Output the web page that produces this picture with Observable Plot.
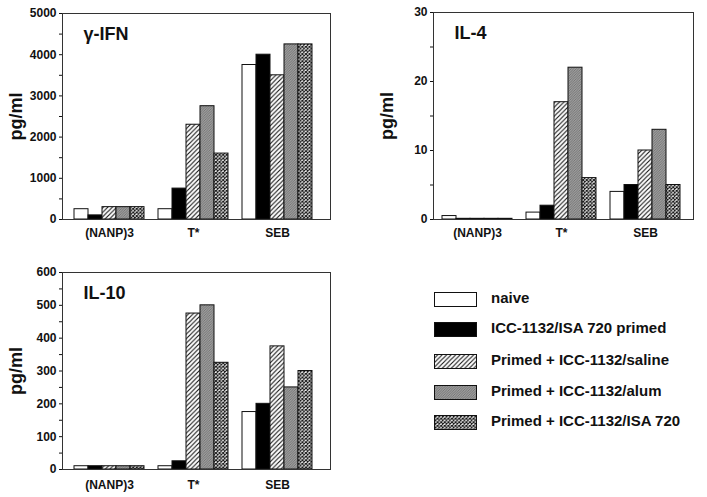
<!DOCTYPE html>
<html>
<head>
<meta charset="utf-8">
<script src="https://cdn.jsdelivr.net/npm/d3@7"></script>
<script src="https://cdn.jsdelivr.net/npm/@observablehq/plot@0.6"></script>
<style>
  html, body { margin: 0; padding: 0; background: #fff; }
  body { width: 707px; height: 497px; position: relative; overflow: hidden;
         font-family: "Liberation Sans", Arial, sans-serif; }
  .panel { position: absolute; }
  .panel svg { font-family: "Liberation Sans", Arial, sans-serif; font-weight: bold; overflow: visible; }
  #legend { position: absolute; left: 434px; top: 292px; }
  .row { position: absolute; left: 0; height: 16px; white-space: nowrap; }
  .row svg { position: absolute; left: 0; top: 0; }
  .row span { position: absolute; left: 57px; top: -3px; font-weight: bold; font-size: 15px; color: #111; }
</style>
</head>
<body>
<svg width="0" height="0" style="position:absolute">
  <defs>
    <pattern id="hatch" patternUnits="userSpaceOnUse" width="4.5" height="4.5">
      <rect width="4.5" height="4.5" fill="#fff"/>
      <path d="M-1,1 l2,-2 M0,4.5 l4.5,-4.5 M3.5,5.5 l2,-2" stroke="#111" stroke-width="1.1"/>
    </pattern>
    <pattern id="alum" patternUnits="userSpaceOnUse" width="2.5" height="2.5">
      <rect width="2.5" height="2.5" fill="#9c9c9c"/>
      <path d="M-0.5,0.5 l1,-1 M0,2.5 l2.5,-2.5 M2,3 l1,-1" stroke="#666" stroke-width="0.7"/>
    </pattern>
    <pattern id="cross" patternUnits="userSpaceOnUse" width="3.6" height="3.6">
      <rect width="3.6" height="3.6" fill="#fff"/>
      <path d="M0,0 L3.6,3.6 M3.6,0 L0,3.6" stroke="#111" stroke-width="1.1"/>
    </pattern>
  </defs>
</svg>
<div id="p1" class="panel" style="left:0;top:0"></div>
<div id="p2" class="panel" style="left:360px;top:0"></div>
<div id="p3" class="panel" style="left:0;top:255px"></div>
<div id="legend"></div>
<script>
// ---- data ----
const groups = ["(NANP)3", "T*", "SEB"];
const series = ["naive", "ICC-1132/ISA 720 primed", "Primed + ICC-1132/saline", "Primed + ICC-1132/alum", "Primed + ICC-1132/ISA 720"];
const seriesFills = ["#ffffff", "#000000", "url(#hatch)", "url(#alum)", "url(#cross)"];

const ifnValues = [
  [250, 100, 300, 300, 300],
  [250, 750, 2300, 2750, 1600],
  [3750, 4000, 3500, 4250, 4250]
];
const il4Values = [
  [0.5, 0.1, 0.1, 0.1, 0.1],
  [1, 2, 17, 22, 6],
  [4, 5, 10, 13, 5]
];
const il10Values = [
  [10, 10, 10, 10, 10],
  [10, 25, 475, 500, 325],
  [175, 200, 375, 250, 300]
];
const ifnTicks = [0, 1000, 2000, 3000, 4000, 5000];
const ifnMinor = [500, 1500, 2500, 3500, 4500];
const il4Ticks = [0, 10, 20, 30];
const il4Minor = [5, 15, 25];
const il10Ticks = [0, 100, 200, 300, 400, 500, 600];
const il10Minor = [50, 150, 250, 350, 450, 550];
const yLabel = "pg/ml";

// ---- helpers ----
const xDomain = [];
groups.forEach((g, gi) => {
  series.forEach((s, si) => xDomain.push(`${gi}-${si}`));
  if (gi < groups.length - 1) xDomain.push(`gap${gi}`);
});
const midKeys = groups.map((g, gi) => `${gi}-2`);

function rowsFor(values) {
  return groups.flatMap((g, gi) => series.map((s, si) => ({key: `${gi}-${si}`, group: g, series: s, value: values[gi][si]})));
}

function panel({values, title, ticks, minor, max, width, height, marginLeft, marginRight, marginTop, marginBottom, tickPadX}) {
  return Plot.plot({
    width, height, marginLeft, marginRight, marginTop, marginBottom,
    style: {fontSize: "12px", fontWeight: "bold", color: "#111", background: "transparent"},
    x: {domain: xDomain, paddingInner: 0, paddingOuter: 0.7, align: 0.4, axis: null},
    y: {domain: [0, max], axis: null},
    color: {domain: series, range: seriesFills},
    marks: [
      Plot.barY(rowsFor(values), {x: "key", y: "value", fill: "series", stroke: "#111", strokeWidth: 1}),
      Plot.frame({stroke: "#333", strokeWidth: 1}),
      Plot.axisY({ticks, tickSize: 3, tickPadding: 3, tickFormat: d => String(d), label: null, fontSize: 12, fontWeight: "bold"}),
      Plot.axisY({ticks: minor, tickSize: 3, text: null, label: null}),
      Plot.axisX({ticks: midKeys, tickFormat: k => groups[+k.split("-")[0]], tickSize: 0, tickPadding: tickPadX, label: null, fontSize: 12, fontWeight: "bold"}),
      Plot.text([yLabel], {text: d => d, frameAnchor: "left", rotate: -90, dx: -46, fontSize: 18, fontWeight: "bold", textAnchor: "middle", lineAnchor: "middle"}),
      Plot.text([title], {text: d => d, frameAnchor: "top-left", dx: 21, dy: 14, fontSize: 18, fontWeight: "bold", textAnchor: "start", lineAnchor: "top"})
    ]
  });
}

document.getElementById("p1").append(panel({values: ifnValues, title: "γ-IFN", ticks: ifnTicks, minor: ifnMinor, max: 5000,
  width: 345, height: 245, marginLeft: 62, marginRight: 15, marginTop: 13, marginBottom: 26, tickPadX: 9}));
document.getElementById("p2").append(panel({values: il4Values, title: "IL-4", ticks: il4Ticks, minor: il4Minor, max: 30,
  width: 347, height: 245, marginLeft: 73, marginRight: 14, marginTop: 12, marginBottom: 26, tickPadX: 9}));
document.getElementById("p3").append(panel({values: il10Values, title: "IL-10", ticks: il10Ticks, minor: il10Minor, max: 600,
  width: 345, height: 242, marginLeft: 62, marginRight: 15, marginTop: 17, marginBottom: 28, tickPadX: 11}));

// ---- legend ----
const legendTops = [0, 30, 62, 93, 123];
const legend = document.getElementById("legend");
series.forEach((s, i) => {
  const row = document.createElement("div");
  row.className = "row";
  row.style.top = legendTops[i] + "px";
  row.innerHTML = `<svg width="44" height="16"><rect x="0.5" y="0.5" width="42" height="14" fill="${seriesFills[i]}" stroke="#111" stroke-width="1"/></svg><span>${s}</span>`;
  legend.append(row);
});
</script>
</body>
</html>
